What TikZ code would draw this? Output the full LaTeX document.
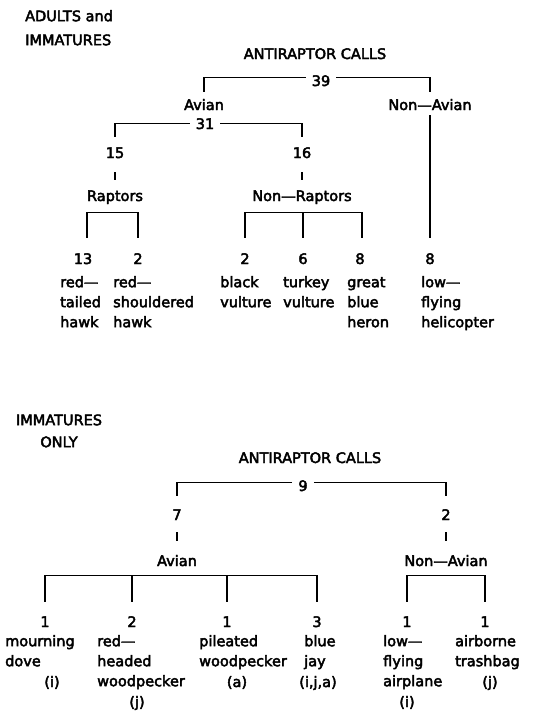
\documentclass[tikz,border=0pt]{standalone}
\usepackage{fontspec}
\setmainfont[FakeBold=3]{DejaVu Sans}
\begin{document}
\begin{tikzpicture}[x=1pt,y=1pt,
  lbl/.style={font=\fontsize{14.5}{20}\selectfont, inner sep=0pt, text height=10.6pt, text depth=3.4pt, anchor=base},
  multi/.style={font=\fontsize{14.5}{20}\selectfont, inner sep=0pt, align=left, anchor=north west},
  conn/.style={draw=black, line width=1.4pt}]
\path[fill=white] (0,0) rectangle (544,-718);
% ---------- top tree ----------
\node[multi] (hdrA) at (25,-7) {\strut ADULTS and\\[4pt]IMMATURES};
\node[lbl] (callsA) at (315,-59) {ANTIRAPTOR CALLS};
\node[lbl] (n39) at (321,-86) {39};
\node[lbl] (avianA) at (204,-110) {Avian};
\node[lbl] (nonavianA) at (430,-110) {Non—Avian};
\node[lbl] (n31) at (205,-129) {31};
\node[lbl] (n15) at (115,-158) {15};
\node[lbl] (n16) at (302,-158) {16};
\node[lbl] (raptors) at (115,-201) {Raptors};
\node[lbl] (nonraptors) at (302,-201) {Non—Raptors};
\node[lbl] (n13) at (83,-264) {13};
\node[lbl] (n2a) at (138,-264) {2};
\node[lbl] (n2b) at (245,-264) {2};
\node[lbl] (n6) at (303,-264) {6};
\node[lbl] (n8a) at (360,-264) {8};
\node[lbl] (n8b) at (430,-264) {8};
\node[multi] (tA) at (60,-273) {\strut red—\\tailed\\hawk};
\node[multi] (tB) at (113,-273) {\strut red—\\shouldered\\hawk};
\node[multi] (tC) at (220,-273) {\strut black\\vulture};
\node[multi] (tD) at (283,-273) {\strut turkey\\vulture};
\node[multi] (tE) at (347,-273) {\strut great\\blue\\heron};
\node[multi] (tF) at (421,-273) {\strut low—\\flying\\helicopter};
\draw[conn] ([xshift=-6pt,yshift=5pt]n39.west) -| ([yshift=7pt]avianA.north);
\draw[conn] ([xshift=6pt,yshift=5pt]n39.east) -| ([yshift=7pt]nonavianA.north);
\draw[conn] ([yshift=-1.6pt]nonavianA.south) -- ([yshift=15.4pt]n8b.north);
\draw[conn] ([xshift=-6pt,yshift=2pt]n31.west) -| ([yshift=10.4pt]n15.north);
\draw[conn] ([xshift=6pt,yshift=2pt]n31.east) -| ([yshift=10.4pt]n16.north);
\draw[conn] ([yshift=-10.6pt]n15.south) -- ([yshift=10.4pt]raptors.north);
\draw[conn] ([yshift=-10.6pt]n16.south) -- ([yshift=10.4pt]nonraptors.north);
\draw[conn] ([xshift=4pt,yshift=15.4pt]n13.north) |- ([yshift=-7.6pt]raptors.south) -| ([yshift=15.4pt]n2a.north);
\draw[conn] ([yshift=15.4pt]n2b.north) |- ([yshift=-7.6pt]nonraptors.south) -| ([xshift=2pt,yshift=15.4pt]n8a.north);
\draw[conn] ([yshift=15.4pt]n6.north) |- ([yshift=-7.6pt]nonraptors.south);
% ---------- bottom tree ----------
\node[multi, align=center, anchor=north] (hdrB) at (59,-411) {\strut IMMATURES\\[2pt]ONLY};
\node[lbl] (callsB) at (310,-463) {ANTIRAPTOR CALLS};
\node[lbl] (n9) at (303,-491) {9};
\node[lbl] (n7) at (177,-520) {7};
\node[lbl] (n2c) at (446,-520) {2};
\node[lbl] (avianB) at (177,-566) {Avian};
\node[lbl] (nonavianB) at (446,-566) {Non—Avian};
\node[lbl] (m1) at (45,-627) {1};
\node[lbl] (m2) at (132,-627) {2};
\node[lbl] (m3) at (227,-627) {1};
\node[lbl] (m4) at (317,-627) {3};
\node[lbl] (m5) at (407,-627) {1};
\node[lbl] (m6) at (485,-627) {1};
\node[multi] (lA) at (5,-632) {\strut mourning\\dove};
\node[multi] (lB) at (97,-632) {\strut red—\\headed\\woodpecker};
\node[multi] (lC) at (199,-632) {\strut pileated\\woodpecker};
\node[multi] (lD) at (304,-632) {\strut blue\\jay};
\node[multi] (lE) at (383,-632) {\strut low—\\flying\\airplane};
\node[multi] (lF) at (455,-632) {\strut airborne\\trashbag};
\node[lbl] (pA) at (52,-687) {(i)};
\node[lbl] (pB) at (137,-707) {(j)};
\node[lbl] (pC) at (237,-687) {(a)};
\node[lbl] (pD) at (318,-687) {(i,j,a)};
\node[lbl] (pE) at (407,-707) {(i)};
\node[lbl] (pF) at (490,-687) {(j)};
\draw[conn] ([xshift=-6pt,yshift=5pt]n9.west) -| ([yshift=13.4pt]n7.north);
\draw[conn] ([xshift=6pt,yshift=5pt]n9.east) -| ([yshift=13.4pt]n2c.north);
\draw[conn] ([yshift=-8.6pt]n7.south) -- ([yshift=14.4pt]avianB.north);
\draw[conn] ([yshift=-8.6pt]n2c.south) -- ([yshift=14.4pt]nonavianB.north);
\draw[conn] ([yshift=14.4pt]m1.north) |- ([yshift=-5.6pt]avianB.south) -| ([yshift=14.4pt]m4.north);
\draw[conn] ([yshift=14.4pt]m2.north) |- ([yshift=-5.6pt]avianB.south);
\draw[conn] ([yshift=14.4pt]m3.north) |- ([yshift=-5.6pt]avianB.south);
\draw[conn] ([yshift=14.4pt]m5.north) |- ([yshift=-5.6pt]nonavianB.south) -| ([yshift=14.4pt]m6.north);
\end{tikzpicture}
\end{document}
